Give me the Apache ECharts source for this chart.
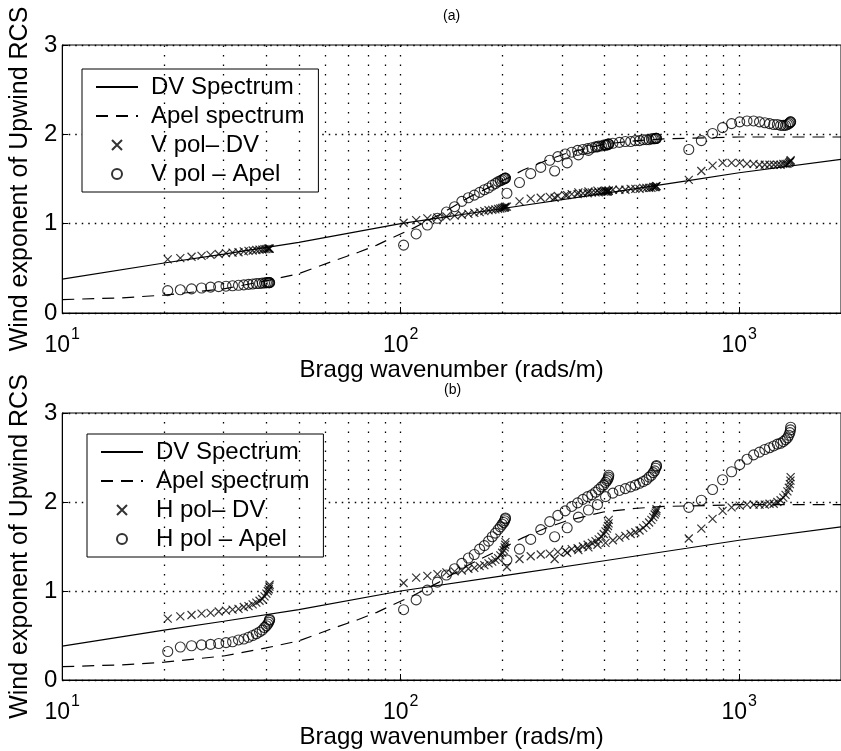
<!DOCTYPE html>
<html>
<head>
<meta charset="utf-8">
<script src="https://cdn.jsdelivr.net/npm/echarts@6/dist/echarts.min.js"></script>
<style>
html,body{margin:0;padding:0;background:#fff;}
#chart{width:841px;height:751px;}
</style>
</head>
<body>
<div id="chart"></div>
<script>
// ---- Bragg wavenumber positions of the measurement segments (rads/m) ----
const kSegA = [20.5,22.33,24.10,25.80,27.43,28.99,30.47,31.86,33.17,34.39,35.51,36.53,37.45,38.28,38.99,39.60,40.10,40.50,40.77,40.94,41.0];
const kSegB = [102.0,111.1,119.9,128.4,136.5,144.3,151.6,158.5,165.0,171.1,176.7,181.8,186.4,190.5,194.0,197.0,199.5,201.5,202.9,203.7,204.0];
const kSegC = [206.0,224.4,242.2,259.3,275.7,291.3,306.2,320.2,333.3,345.5,356.8,367.1,376.4,384.6,391.9,398.0,403.0,406.9,409.7,411.4,412.0];
const kSegD = [285.0,310.4,335.0,358.7,381.4,403.0,423.6,442.9,461.1,478.1,493.6,507.9,520.7,532.2,542.1,550.6,557.5,563.0,566.9,569.2,570.0];
const kSegE = [710.0,773.3,834.7,893.6,950.1,1004.1,1055.2,1103.5,1148.8,1191.0,1229.7,1265.2,1297.2,1325.7,1350.6,1371.6,1388.9,1402.5,1412.2,1418.0,1420.0];

// ---- (a) V polarisation ----
const vpolDV = [
  0.60,0.615,0.63,0.64,0.65,0.66,0.67,0.675,0.68,0.69,0.695,0.70,0.705,0.71,0.71,0.715,0.715,0.72,0.72,0.72,0.72,
  1.01,1.04,1.06,1.07,1.08,1.09,1.10,1.11,1.12,1.13,1.14,1.15,1.155,1.16,1.165,1.17,1.175,1.18,1.18,1.185,1.19,
  1.19,1.25,1.28,1.29,1.30,1.31,1.32,1.33,1.33,1.34,1.34,1.35,1.35,1.35,1.36,1.36,1.36,1.36,1.36,1.37,1.37,
  1.29,1.32,1.35,1.36,1.37,1.37,1.38,1.38,1.38,1.39,1.39,1.39,1.40,1.40,1.40,1.40,1.41,1.41,1.41,1.42,1.42,
  1.49,1.59,1.65,1.68,1.68,1.68,1.67,1.67,1.66,1.66,1.66,1.66,1.66,1.66,1.67,1.67,1.67,1.68,1.69,1.70,1.71
];
const vpolApel = [
  0.25,0.26,0.27,0.28,0.29,0.295,0.30,0.305,0.31,0.315,0.32,0.325,0.33,0.33,0.335,0.335,0.34,0.34,0.34,0.34,0.34,
  0.76,0.885,0.985,1.06,1.13,1.19,1.25,1.29,1.32,1.35,1.38,1.40,1.43,1.45,1.47,1.48,1.49,1.50,1.505,1.51,1.51,
  1.34,1.46,1.56,1.63,1.71,1.75,1.78,1.80,1.82,1.83,1.84,1.85,1.86,1.87,1.87,1.88,1.88,1.88,1.89,1.89,1.89,
  1.59,1.68,1.77,1.82,1.86,1.88,1.90,1.91,1.92,1.92,1.93,1.93,1.94,1.94,1.94,1.95,1.95,1.95,1.955,1.955,1.955,
  1.83,1.93,2.01,2.075,2.12,2.14,2.15,2.15,2.14,2.13,2.12,2.11,2.11,2.10,2.10,2.10,2.11,2.12,2.13,2.14,2.14
];

// ---- (b) H polarisation ----
const hpolDV = [
  0.69,0.715,0.73,0.745,0.755,0.77,0.78,0.79,0.80,0.82,0.83,0.85,0.87,0.89,0.91,0.94,0.97,1.00,1.02,1.05,1.07,
  1.09,1.15,1.17,1.19,1.21,1.22,1.23,1.25,1.26,1.28,1.29,1.31,1.33,1.35,1.37,1.40,1.43,1.46,1.49,1.52,1.55,
  1.27,1.36,1.39,1.41,1.42,1.44,1.45,1.47,1.48,1.50,1.52,1.54,1.56,1.58,1.61,1.64,1.67,1.70,1.73,1.76,1.80,
  1.36,1.43,1.46,1.49,1.52,1.54,1.57,1.60,1.62,1.64,1.66,1.68,1.71,1.74,1.77,1.80,1.83,1.86,1.88,1.90,1.92,
  1.59,1.70,1.81,1.90,1.94,1.96,1.97,1.97,1.97,1.97,1.98,1.98,2.00,2.02,2.05,2.08,2.12,2.16,2.20,2.24,2.28
];
const hpolApel = [
  0.32,0.37,0.385,0.395,0.40,0.41,0.42,0.43,0.45,0.46,0.48,0.50,0.52,0.54,0.56,0.59,0.61,0.63,0.65,0.67,0.68,
  0.79,0.90,1.01,1.10,1.18,1.25,1.31,1.37,1.41,1.47,1.51,1.56,1.61,1.65,1.69,1.72,1.75,1.77,1.79,1.81,1.82,
  1.35,1.47,1.58,1.69,1.78,1.85,1.90,1.95,1.99,2.03,2.06,2.08,2.11,2.14,2.17,2.19,2.22,2.24,2.26,2.28,2.30,
  1.61,1.71,1.83,1.91,1.97,2.06,2.10,2.13,2.15,2.17,2.19,2.21,2.23,2.25,2.28,2.30,2.33,2.35,2.38,2.40,2.41,
  1.94,2.02,2.14,2.25,2.34,2.42,2.48,2.53,2.56,2.59,2.61,2.63,2.65,2.66,2.68,2.70,2.72,2.75,2.78,2.81,2.84
];

// ---- model spectra curves ----
const dvK   = [10, 20, 30, 50, 100, 200, 400, 700, 1000, 2000];
const dvY   = [0.38, 0.56, 0.66, 0.79, 1.00, 1.17, 1.34, 1.48, 1.57, 1.72];
const apelK = [10, 15, 20, 30, 40, 50, 63, 75, 85, 93, 109, 130, 160, 200, 230, 270, 310, 400, 500, 600, 800, 1000, 2000];
const apelY = [0.15, 0.17, 0.20, 0.27, 0.36, 0.44, 0.58, 0.68, 0.76, 0.83, 0.95, 1.10, 1.30, 1.48, 1.60, 1.71, 1.79, 1.89, 1.93, 1.95, 1.96, 1.97, 1.97];

// ---- axes ----
const xMin = 10, xMax = 2000;
const yTicks = [0, 1, 2, 3];
const xGridValues = [20,30,40,50,60,70,80,90,100,200,300,400,500,600,700,800,900,1000];
const panelTitles = ['(a)', '(b)'];
const xAxisTitle = 'Bragg wavenumber (rads/m)';
const yAxisTitle = 'Wind exponent of Upwind RCS';
const legendNames = [
  ['DV Spectrum', 'Apel spectrum', 'V pol\u2013 DV', 'V pol \u2013 Apel'],
  ['DV Spectrum', 'Apel spectrum', 'H pol\u2013 DV', 'H pol \u2013 Apel']
];

const kAll = [].concat(kSegA, kSegB, kSegC, kSegD, kSegE);
function pairs(xs, ys) { return xs.map((x, i) => [x, ys[i]]); }

const FONT = 'Liberation Sans, Arial, Helvetica, sans-serif';
const crossPath = 'path://M0,0L10,10M0,10L10,0';

const grids = [
  {left: 58, top: 45, width: 787, height: 268},
  {left: 60, top: 413, width: 787, height: 267}
];

function makeX(i, gap) {
  return {
    type: 'log', logBase: 10, gridIndex: i, min: xMin, max: xMax,
    name: xAxisTitle, nameLocation: 'middle', nameGap: gap,
    nameTextStyle: {fontSize: 24, fontFamily: FONT, color: '#000'},
    axisLine: {show: true, onZero: false, lineStyle: {color: '#000', width: 1}},
    axisTick: {show: true, inside: true, length: 6, lineStyle: {color: '#000'}},
    splitLine: {show: false},
    minorTick: {show: false},
    axisLabel: {
      margin: 14, color: '#000', fontFamily: FONT,
      showMaxLabel: false,
      formatter: function (v) {
        const e = Math.log10(v);
        if (Math.abs(e - Math.round(e)) > 1e-6) return '';
        return '{b|10}{s|' + Math.round(e) + '}';
      },
      rich: {
        b: {fontSize: 23, fontFamily: FONT, color: '#000', lineHeight: 30, verticalAlign: 'bottom'},
        s: {fontSize: 16, fontFamily: FONT, color: '#000', lineHeight: 30, verticalAlign: 'top', padding: [0, 0, 0, 1]}
      }
    }
  };
}
function makeY(i) {
  return {
    type: 'value', gridIndex: i, min: yTicks[0], max: yTicks[yTicks.length - 1], interval: 1,
    name: yAxisTitle, nameLocation: 'middle', nameGap: 17,
    nameTextStyle: {fontSize: 25, fontFamily: FONT, color: '#000'},
    axisLine: {show: true, lineStyle: {color: '#000', width: 1}},
    axisTick: {show: true, inside: true, length: 6, lineStyle: {color: '#000'}},
    axisLabel: {fontSize: 24, fontFamily: FONT, color: '#000', margin: 5},
    splitLine: {show: true, lineStyle: {color: '#000', width: 1.3, type: [1.5, 5]}}
  };
}

function panelSeries(i, dvName, apelName, crossName, circName, crossY, circY) {
  return [
    {
      name: dvName, type: 'line', xAxisIndex: i, yAxisIndex: i, symbol: 'none', silent: true,
      data: pairs(dvK, dvY), lineStyle: {color: '#000', width: 1.2},
      itemStyle: {color: 'rgba(0,0,0,0)', borderWidth: 0}, z: 3,
      markLine: {
        silent: true, symbol: ['none', 'none'], label: {show: false},
        lineStyle: {color: '#000', width: 1.3, type: [1.5, 8]},
        emphasis: {disabled: true},
        data: xGridValues.map(v => ({xAxis: v}))
      }
    },
    {
      name: apelName, type: 'line', xAxisIndex: i, yAxisIndex: i, symbol: 'none', silent: true,
      data: pairs(apelK, apelY), lineStyle: {color: '#000', width: 1.2, type: [12, 8]},
      itemStyle: {color: 'rgba(0,0,0,0)', borderWidth: 0}, z: 3
    },
    {
      name: crossName, type: 'scatter', xAxisIndex: i, yAxisIndex: i, symbol: crossPath, symbolSize: 8,
      data: pairs(kAll, crossY), itemStyle: {color: 'none', borderColor: '#000', borderWidth: 1.2}, z: 4
    },
    {
      name: circName, type: 'scatter', xAxisIndex: i, yAxisIndex: i, symbol: 'circle', symbolSize: 10,
      data: pairs(kAll, circY), itemStyle: {color: 'none', borderColor: '#000', borderWidth: 1.1}, z: 4
    }
  ];
}

function makeLegend(i, left, top) {
  return {
    data: legendNames[i], orient: 'vertical', left: left, top: top,
    itemWidth: 42, itemHeight: 10, itemGap: 5,
    padding: [6, 14, 6, 13],
    borderColor: '#000', borderWidth: 1, backgroundColor: '#fff',
    selectedMode: false,
    textStyle: {fontSize: 24, fontFamily: FONT, color: '#000', lineHeight: 24, padding: [0, 0, 0, 8]}
  };
}

const chart = echarts.init(document.getElementById('chart'), null, {renderer: 'canvas'});
chart.setOption({
  animation: false,
  backgroundColor: '#fff',
  grid: grids.map(g => Object.assign({show: true, borderColor: '#000', borderWidth: 1, backgroundColor: 'transparent', containLabel: false}, g)),
  xAxis: [makeX(0, 30), makeX(1, 38)],
  yAxis: [makeY(0), makeY(1)],
  legend: [makeLegend(0, 82, 69), makeLegend(1, 87, 434)],
  graphic: [
    {type: 'text', left: 443, top: 9, style: {text: panelTitles[0], fontSize: 14, fontFamily: FONT, fill: '#000'}},
    {type: 'text', left: 444, top: 383, style: {text: panelTitles[1], fontSize: 14, fontFamily: FONT, fill: '#000'}}
  ],
  series: [].concat(
    panelSeries(0, legendNames[0][0], legendNames[0][1], legendNames[0][2], legendNames[0][3], vpolDV, vpolApel),
    panelSeries(1, legendNames[1][0], legendNames[1][1], legendNames[1][2], legendNames[1][3], hpolDV, hpolApel)
  )
});
</script>
</body>
</html>
